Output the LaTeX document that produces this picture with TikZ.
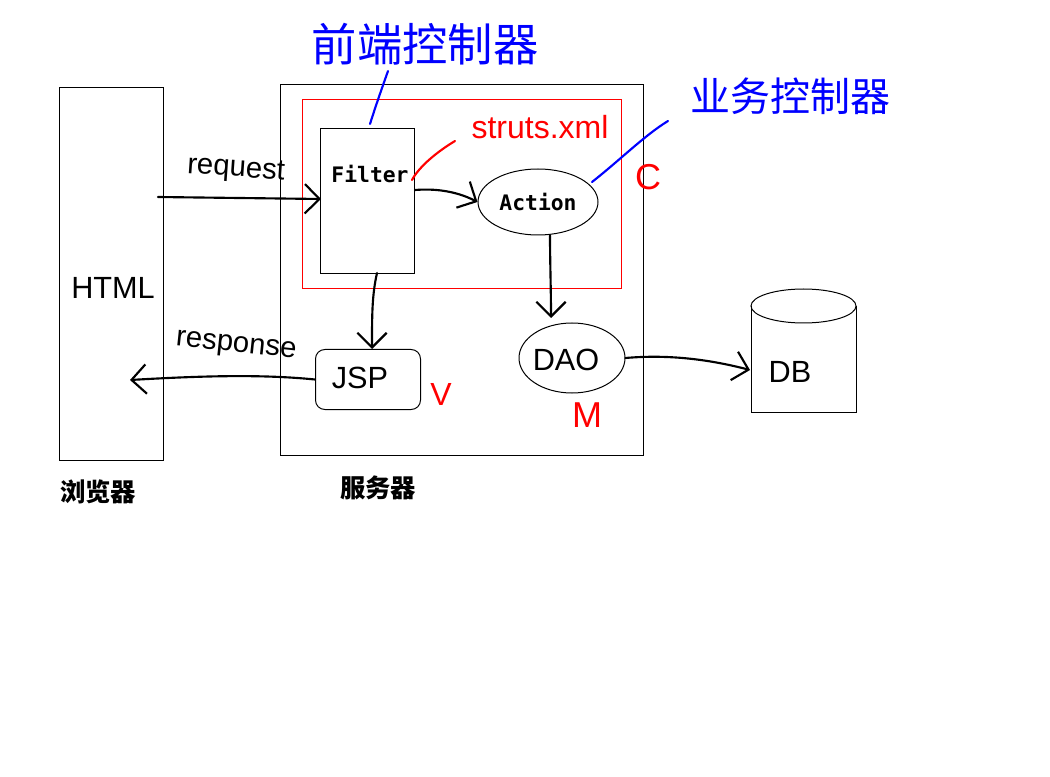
\documentclass[tikz,border=0pt]{standalone}
\usepackage{fontspec}
\setmainfont{Liberation Sans}
\newfontfamily\cjk{Noto Sans CJK SC}
\newfontfamily\monob{DejaVu Sans Mono}
\usetikzlibrary{arrows.meta,shapes.geometric}
\tikzset{
  box/.style={draw=black,line width=0.75pt,inner sep=0pt},
  redbox/.style={draw=red,line width=0.75pt},
  stroke/.style={line width=1.6pt,line cap=round,line join=round},
  harrow/.style={stroke,-{Straight Barb[length=11pt,width=22pt,line width=1.6pt]}},
  hand/.style={font=\fontsize{21}{24}\selectfont,inner sep=0pt},
  bluehand/.style={text=blue,font=\cjk\fontsize{34}{36}\selectfont,inner sep=0pt},
  redhand/.style={text=red,font=\fontsize{24}{26}\selectfont,inner sep=0pt},
  bluestroke/.style={stroke,draw=blue},
  redstroke/.style={stroke,draw=red},
  cjklabel/.style={font=\cjk\bfseries\fontsize{19}{21}\selectfont,inner sep=0pt},
  monolabel/.style={font=\monob\bfseries\fontsize{16}{18}\selectfont,inner sep=0pt}
}
\begin{document}
\begin{tikzpicture}[x=0.75pt,y=-0.75pt]
\useasboundingbox[fill=white] (0,0) rectangle (1050,777);
% containers
\node[box,minimum width=78pt,minimum height=279.75pt,anchor=north west] (browser) at (59,87) {};
\node[box,minimum width=272.25pt,minimum height=278.25pt,anchor=north west] (server) at (280,84) {};
\node[redbox,minimum width=239.25pt,minimum height=141.75pt,anchor=north west,inner sep=0pt] (ctrl) at (302,99) {};
% inner components
\node[box,minimum width=70.5pt,minimum height=108.75pt,anchor=north west] (filterbox) at (320,128) {};
\node[monolabel] (filter) at (370,174) {Filter};
\node[box,ellipse,minimum width=90pt,minimum height=49.5pt,monolabel,draw] (action) at (538,202) {Action};
\node[box,rounded corners=7pt,minimum width=78.75pt,minimum height=45pt,anchor=north west] (jspbox) at (315,349) {};
\node[hand,font=\fontsize{23}{25}\selectfont] (jsp) at (360,378) {JSP};
\node[box,ellipse,minimum width=79.5pt,minimum height=52.5pt,draw] (dao) at (572,358) {};
\node[hand,font=\fontsize{23}{25}\selectfont] (daot) at (566,360) {DAO};
% DB cylinder
\draw[line width=0.75pt] (751,306) -- (751,412) -- (856,412) -- (856,306);
\draw[line width=0.75pt] (803.5,306) ellipse (52.5 and 17);
\node[hand,font=\fontsize{23}{25}\selectfont] (db) at (790,372) {DB};
\coordinate (dbin) at (750,370);
% text labels
\node[hand,font=\fontsize{23}{25}\selectfont] (html) at (113,288) {HTML};
\node[hand,rotate=-4,font=\fontsize{22}{24}\selectfont] (req) at (236,170) {request};
\node[hand,rotate=-6,font=\fontsize{22}{24}\selectfont] (resp) at (236,347) {response};
\node[cjklabel] (browsertxt) at (98,492) {浏览器};
\node[cjklabel] (servertxt) at (378,488) {服务器};
% arrows
\coordinate (reqstart) at (158,197);
\draw[harrow] (reqstart) -- (321,199);
\coordinate (respend) at (130,380);
\draw[harrow] (jspbox.west) .. controls (260,374) and (200,376) .. (respend);
\draw[harrow] (filterbox.east |- 0,190) .. controls (440,188) and (460,193) .. (action.west);
\draw[harrow] (377,273) .. controls (372,295) and (372,315) .. (jspbox.north -| 372,0);
\draw[harrow] (action.south -| 550,0) .. controls (550,260) and (551,290) .. (551,318);
\draw[harrow] (dao.east) .. controls (660,355) and (700,357) .. (dbin);
% blue annotations
\node[bluehand] (frontctrl) at (425,44) {前端控制器};
\node[bluehand,font=\cjk\fontsize{30}{32}\selectfont] (bizctrl) at (790,96) {业务控制器};
\draw[bluestroke] (370,124) .. controls (376,105) and (382,88) .. (388,71);
\draw[bluestroke] (592,182) .. controls (620,160) and (645,135) .. (668,121);
% red annotations
\node[redhand] (struts) at (540,127) {struts.xml};
\draw[redstroke] (412,180) .. controls (420,165) and (440,150) .. (455,141);
\node[redhand,font=\fontsize{27}{29}\selectfont] (c) at (648,177) {C};
\node[redhand,font=\fontsize{24}{26}\selectfont] (v) at (441,394) {V};
\node[redhand,font=\fontsize{27}{29}\selectfont] (m) at (587,415) {M};
\end{tikzpicture}
\end{document}
